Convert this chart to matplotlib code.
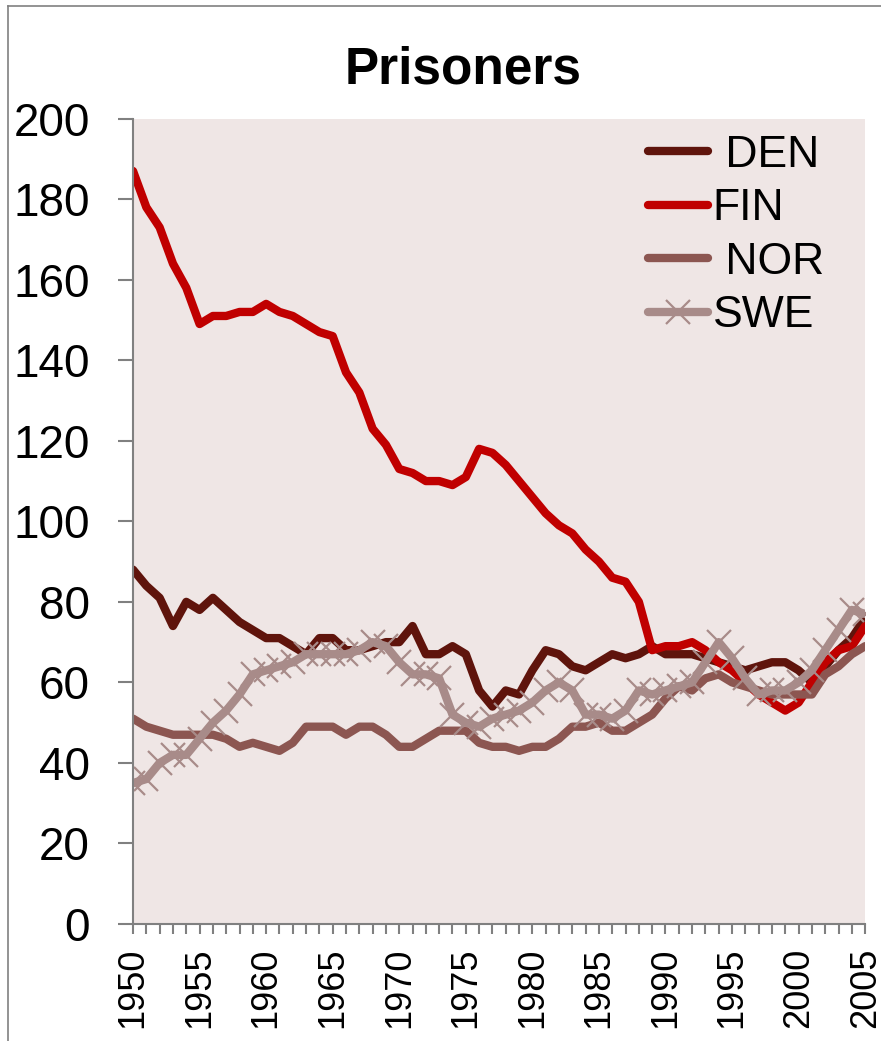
import matplotlib.pyplot as plt
from matplotlib.lines import Line2D

plt.rcParams['font.family'] = ['Liberation Sans', 'DejaVu Sans']

years = list(range(1950, 2006))

den = [88, 84, 81, 74, 80, 78, 81, 78, 75, 73,
       71, 71, 69, 67, 71, 71, 68, 68, 69, 70,
       70, 74, 67, 67, 69, 67, 58, 54, 58, 57,
       63, 68, 67, 64, 63, 65, 67, 66, 67, 69,
       67, 67, 67, 66, 65, 64, 63, 64, 65, 65,
       63, 60, 64, 68, 71, 76]

fin = [187, 178, 173, 164, 158, 149, 151, 151, 152, 152,
       154, 152, 151, 149, 147, 146, 137, 132, 123, 119,
       113, 112, 110, 110, 109, 111, 118, 117, 114, 110,
       106, 102, 99, 97, 93, 90, 86, 85, 80, 68,
       69, 69, 70, 68, 65, 63, 60, 57, 55, 53,
       55, 60, 65, 68, 69, 74]

nor = [51, 49, 48, 47, 47, 47, 47, 46, 44, 45,
       44, 43, 45, 49, 49, 49, 47, 49, 49, 47,
       44, 44, 46, 48, 48, 48, 45, 44, 44, 43,
       44, 44, 46, 49, 49, 50, 48, 48, 50, 52,
       56, 59, 58, 61, 62, 60, 59, 58, 57, 57,
       57, 57, 62, 64, 67, 69]

swe = [35, 36, 40, 42, 42, 46, 50, 53, 57, 62,
       63, 64, 65, 67, 67, 67, 67, 68, 70, 69,
       65, 62, 62, 61, 52, 50, 49, 51, 52, 53,
       55, 58, 60, 58, 52, 52, 51, 53, 58, 57,
       58, 59, 60, 65, 70, 66, 61, 57, 58, 58,
       60, 63, 68, 73, 78, 77]

fig = plt.figure(figsize=(8.81, 10.41), dpi=100)
ax = fig.add_axes([0.151, 0.1124, 0.831, 0.7736])
ax.set_facecolor('#EFE6E5')

ax.plot(years, den, color='#5F140C', lw=6, label=' DEN', solid_capstyle='round')
ax.plot(years, fin, color='#C00000', lw=6, label='FIN', solid_capstyle='round')
ax.plot(years, nor, color='#8C5651', lw=6, label=' NOR', solid_capstyle='round')
ax.plot(years, swe, color='#A88B89', lw=6, label='SWE', marker='x',
        markersize=17, markeredgewidth=1.6, solid_capstyle='round')

ax.set_xlim(1950, 2005)
ax.set_ylim(0, 200)
ax.set_yticks(range(0, 201, 20))
ax.set_xticks(range(1950, 2006, 5))
ax.set_xticks(years, minor=True)
ax.tick_params(axis='y', labelsize=33, length=11, width=1.5, color='#808080', pad=20)
ax.tick_params(axis='x', which='both', labelsize=26, length=7, width=1.5,
               color='#808080', rotation=90, pad=10)

for side in ['top', 'right']:
    ax.spines[side].set_visible(False)
for side in ['left', 'bottom']:
    ax.spines[side].set_color('#808080')
    ax.spines[side].set_linewidth(1.5)

fig.text(463 / 881, 1 - 83 / 1041, 'Prisoners', fontsize=37, fontweight='bold',
         ha='center', va='baseline')

ax.legend(loc='upper left', frameon=False, fontsize=32, handlelength=1.35,
          handletextpad=0.1, labelspacing=0.28, borderaxespad=0, borderpad=0,
          bbox_to_anchor=(0.7035, 0.98))

# outer chart border
fig.add_artist(Line2D([8/881, 8/881], [0, 1 - 6/1041], color='#808080', lw=1.2))
fig.add_artist(Line2D([8/881, 1], [1 - 6/1041, 1 - 6/1041], color='#808080', lw=1.2))

fig.savefig('out.png', dpi=100)
